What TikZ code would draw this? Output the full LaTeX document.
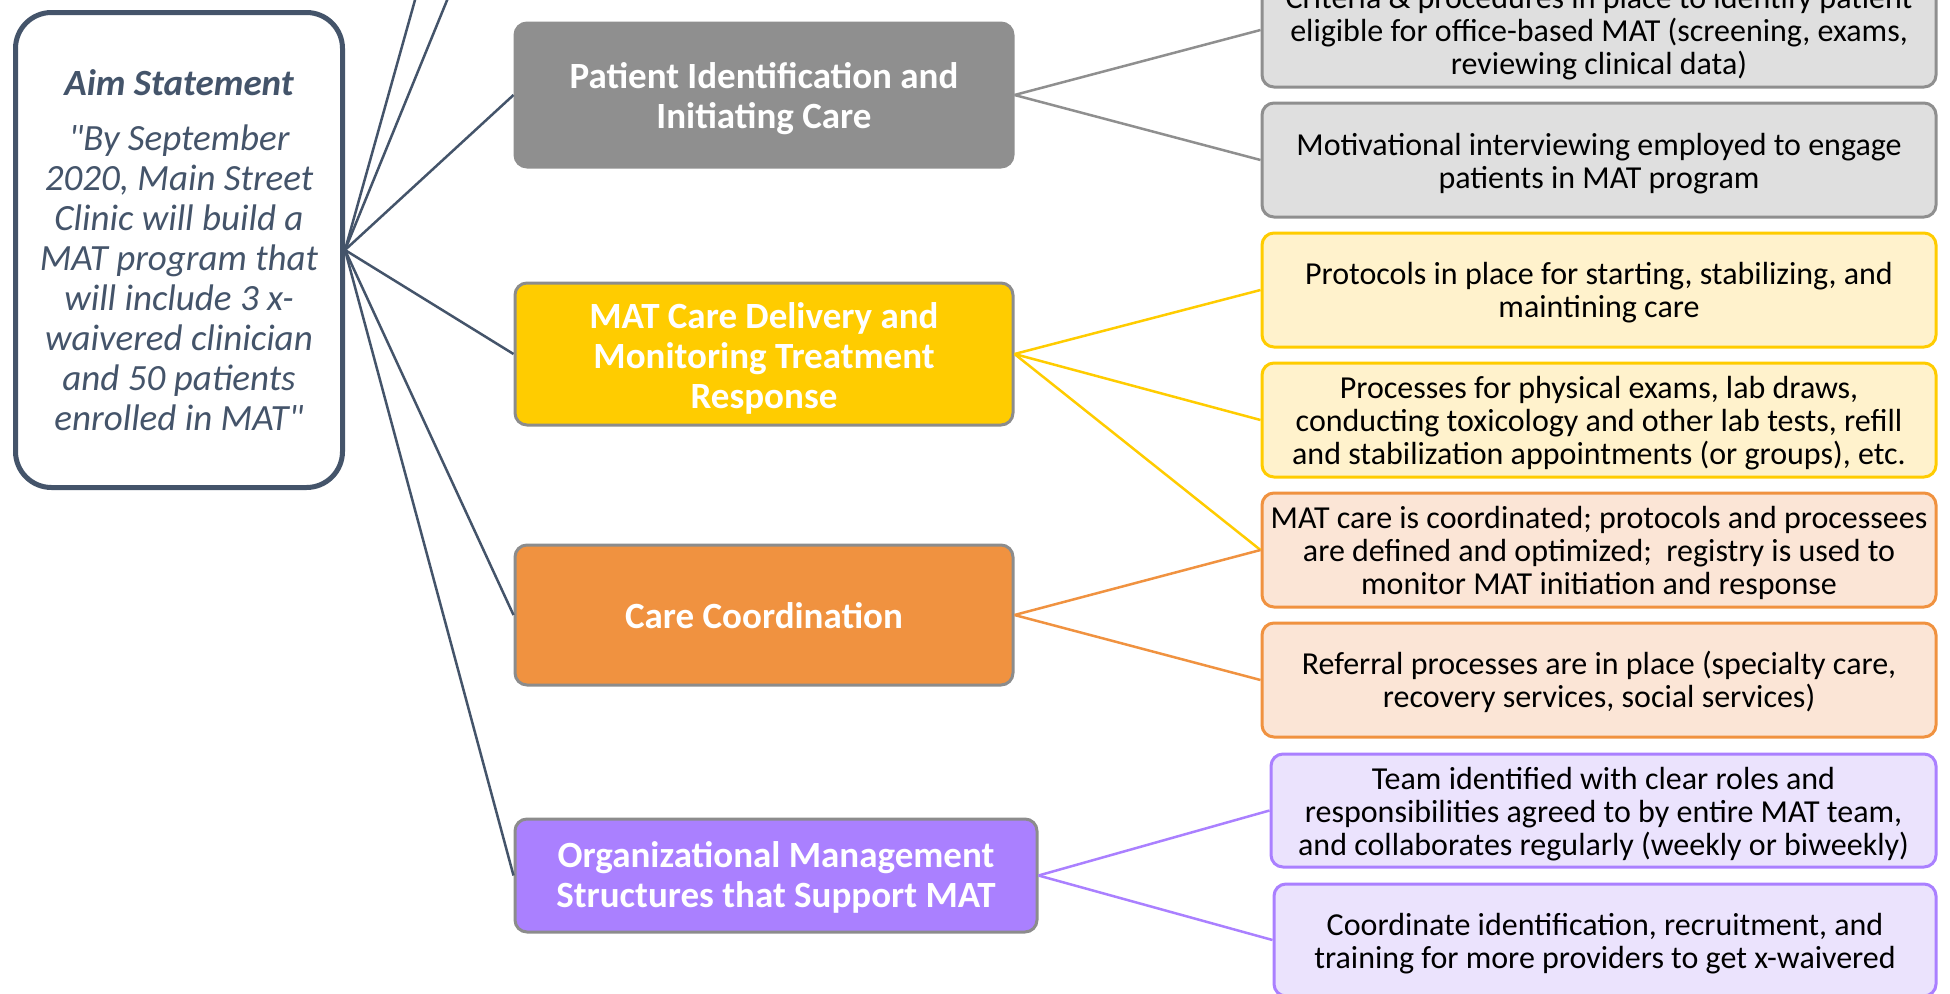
\documentclass[tikz,border=0pt]{standalone}
\usepackage{fontspec}
\setmainfont{Carlito}[Ligatures=TeXOff]
\definecolor{slate}{HTML}{44546A}
\definecolor{gmain}{HTML}{8F8F8F}
\definecolor{gfill}{HTML}{DFDFDF}
\definecolor{ymain}{HTML}{FFCC00}
\definecolor{yfill}{HTML}{FFF2CC}
\definecolor{omain}{HTML}{F09240}
\definecolor{ofill}{HTML}{FBE5D6}
\definecolor{pmain}{HTML}{AA80FF}
\definecolor{pfill}{HTML}{EBE3FD}
\definecolor{bord}{HTML}{8C8C8C}
\newcommand{\mystrut}[1]{\rule{0pt}{#1}}
\tikzset{
  mainbox/.style={rounded corners=12pt, draw=bord, line width=3pt, inner sep=0pt,
    align=center, text=white, font=\fontsize{37}{40}\selectfont\bfseries},
  leafbox/.style={rounded corners=12pt, line width=3pt, inner sep=0pt, align=center,
    text=black, font=\fontsize{32}{33}\selectfont, minimum width=674pt, minimum height=114pt},
  graybox/.style={leafbox, draw=gmain, fill=gfill},
  yelbox/.style={leafbox, draw=ymain, fill=yfill},
  orabox/.style={leafbox, draw=omain, fill=ofill},
  purbox/.style={leafbox, draw=pmain, fill=pfill},
  hub/.style={draw=slate, line width=2.5pt},
  gline/.style={draw=gmain, line width=2.5pt},
  yline/.style={draw=ymain, line width=2.5pt},
  oline/.style={draw=omain, line width=2.5pt},
  pline/.style={draw=pmain, line width=2.5pt},
}
\begin{document}
\begin{tikzpicture}[x=1pt,y=-1pt]
\useasboundingbox[fill=white] (0,0) rectangle (1950,993);
\clip (0,0) rectangle (1950,993);

% aim statement
\node[draw=slate, line width=5pt, rounded corners=36pt, minimum width=327pt, minimum height=475pt,
  inner sep=0pt, align=center, text=slate, font=\fontsize{37}{40}\selectfont\itshape]
  (aim) at (179,250) {{\bfseries Aim Statement}\\[15pt]
  "By September\\2020, Main Street\\Clinic will build a\\MAT program that\\will include 3 x-\\waivered clinician\\and 50 patients\\enrolled in MAT"};

% main boxes
\node[mainbox, draw=gmain, fill=gmain, minimum width=498pt, minimum height=144pt] (pat) at (764,95)
  {\mystrut{34pt}Patient Identification and\\Initiating Care};
\node[mainbox, fill=ymain, minimum width=498pt, minimum height=142pt] (mat) at (764,354)
  {\mystrut{35pt}MAT Care Delivery and\\Monitoring Treatment\\Response};
\node[mainbox, fill=omain, minimum width=498pt, minimum height=140pt] (care) at (764,615)
  {\mystrut{28pt}Care Coordination};
\node[mainbox, fill=pmain, minimum width=522pt, minimum height=113pt] (org) at (776,875.5)
  {\mystrut{30pt}Organizational Management\\Structures that Support MAT};

% leaf boxes
\node[graybox] (g1) at (1599,30)
  {\mystrut{29pt}Criteria \& procedures in place to identify patient\\eligible for office-based MAT (screening, exams,\\reviewing clinical data)};
\node[graybox] (g2) at (1599,160)
  {\mystrut{30pt}Motivational interviewing employed to engage\\patients in MAT program};
\node[yelbox] (y1) at (1599,290)
  {\mystrut{28pt}Protocols in place for starting, stabilizing, and\\maintining care};
\node[yelbox] (y2) at (1599,420)
  {\mystrut{28pt}Processes for physical exams, lab draws,\\conducting toxicology and other lab tests, refill\\and stabilization appointments (or groups), etc.};
\node[orabox] (o1) at (1599,550)
  {\mystrut{28pt}MAT care is coordinated; protocols and processees\\are defined and optimized;\ \ registry is used to\\monitor MAT initiation and response};
\node[orabox] (o2) at (1599,680)
  {\mystrut{28pt}Referral processes are in place (specialty care,\\recovery services, social services)};
\node[purbox, minimum width=665pt, minimum height=113pt] (p1) at (1603.5,810.5)
  {\mystrut{29pt}Team identified with clear roles and\\responsibilities agreed to by entire MAT team,\\and collaborates regularly (weekly or biweekly)};
\node[purbox, minimum width=662pt, minimum height=112pt] (p2) at (1605,940)
  {\mystrut{29pt}Coordinate identification, recruitment, and\\training for more providers to get x-waivered};

% hub connectors
\coordinate (t1) at (443,-100);
\coordinate (t2) at (488,-100);
\draw[hub] (aim.east) -- (t1);
\draw[hub] (aim.east) -- (t2);
\draw[hub] (aim.east) -- (pat.west);
\draw[hub] (aim.east) -- (mat.west);
\draw[hub] (aim.east) -- (care.west);
\draw[hub] (aim.east) -- (org.west);

% branch connectors
\draw[gline] (pat.east) -- (g1.west);
\draw[gline] (pat.east) -- (g2.west);
\draw[yline] (mat.east) -- (y1.west);
\draw[yline] (mat.east) -- (y2.west);
\draw[yline] (mat.east) -- (o1.west);
\draw[oline] (care.east) -- (o1.west);
\draw[oline] (care.east) -- (o2.west);
\draw[pline] (org.east) -- (p1.west);
\draw[pline] (org.east) -- (p2.west);
\end{tikzpicture}
\end{document}
